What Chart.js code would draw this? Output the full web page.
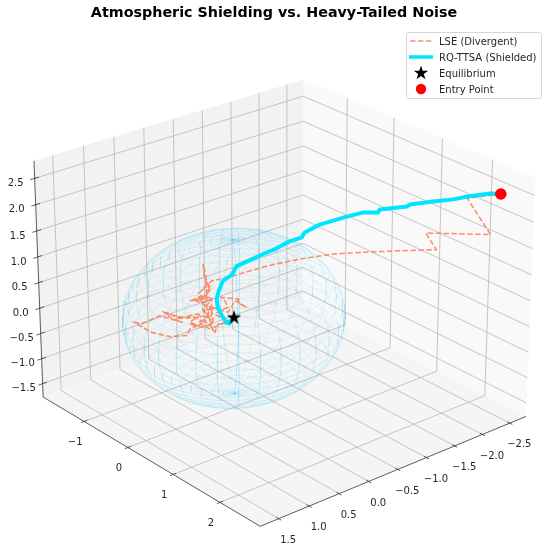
<!DOCTYPE html>
<html>
<head>
<meta charset="utf-8">
<style>html,body{margin:0;padding:0;background:#fff}canvas{display:block}</style>
<script src="https://cdn.jsdelivr.net/npm/chart.js@4/dist/chart.umd.min.js"></script>
</head>
<body>
<canvas id="c" width="548" height="550"></canvas>
<script>
// Trajectories in state space, listed from the entry point towards equilibrium.
const rqX = [-2.5,-2.404,-2.19,-2.06,-1.872,-1.658,-1.631,-1.377,-1.359,-1.217,-1.067,-0.814,-0.673,-0.646,-0.532,-0.409,-0.277,-0.134,-0.029,0.019,0.105,0.144,0.164,0.155,0.126,0.087,0.048,0];
const rqY = [2.5,2.404,2.19,2.06,1.872,1.658,1.631,1.377,1.359,1.217,1.067,0.814,0.673,0.646,0.532,0.409,0.277,0.134,0.029,-0.019,-0.105,-0.144,-0.164,-0.155,-0.126,-0.087,-0.048,0];
const rqZ = [2.5,2.505,2.438,2.376,2.326,2.258,2.221,2.15,2.092,2.083,2.0,1.835,1.678,1.584,1.502,1.362,1.242,1.102,1.0,0.827,0.705,0.512,0.357,0.183,0.07,-0.063,-0.12,0];

const lseA = [2.5,2.19,2.418,1.811,1.913,1.296,0.943,0.63,0.315,-0.01,-0.212,-0.346,-0.264,-0.258,-0.29,-0.281,-0.239,-0.271,-0.426,-0.329,-0.216,-0.297,-0.249,-0.232,-0.258,
  -0.264,-0.216,-0.297,-0.41,-0.313,-0.2,-0.281,-0.394,-0.264,-0.184,-0.297,-0.232,-0.345,-0.49,-0.587,-0.651,-0.523,-0.394,-0.281,-0.361,-0.426,-0.313,-0.2,-0.216,-0.249,-0.2,-0.297,
  -0.361,-0.442,-0.539,-0.668,-0.603,-0.491,-0.716,-0.878,-0.958,-0.797,-0.62,-0.452,-0.426,-0.346,-0.426,-0.329,-0.232,-0.184,-0.152,-0.055,-0.104,-0.184,-0.104,-0.055,-0.087,-0.119,0.042,0.058,0.123,0.01,-0.055,-0.2,-0.232,-0.184,-0.087,-0.007];
const lseX = lseA.map(v => -v);
const lseY = lseA;
const lseZ = [2.5,2.4,1.732,1.73,1.419,1.343,1.283,1.17,1.018,0.808,0.7,0.438,0.585,0.702,1.025,0.798,0.562,0.346,0.303,0.362,0.316,0.15,0.023,0.199,-0.041,
  0.701,0.543,0.375,0.304,0.407,0.362,0.279,0.338,0.216,0.157,0.117,-0.04,0.05,-0.025,0.015,0.062,-0.047,0,-0.109,-0.192,-0.149,-0.208,-0.135,0.219,0.056,-0.265,-0.174,
  -0.017,-0.034,-0.015,0.061,-0.044,-0.122,-0.006,-0.166,-0.151,-0.335,-0.408,-0.378,-0.246,-0.177,-0.118,0.018,-0.17,-0.297,-0.132,-0.125,-0.032,0.06,0.162,0.197,0.325,0.387,0.366,0.27,0.208,0.331,0.1,0.187,-0.073,-0.2,-0.096,-0.006];

const equilibrium = [0, 0, 0];
const entryPoint = [-2.5, 2.5, 2.5];
const shieldRadius = 1.5;

const xTicks = [-2.5,-2,-1.5,-1,-0.5,0,0.5,1,1.5];
const yTicks = [-1,0,1,2];
const zTicks = [-1.5,-1,-0.5,0,0.5,1,1.5,2,2.5];
const xLim = [-2.8, 1.8], yLim = [-1.97, 2.83], zLim = [-1.77, 2.83];

const titleText = 'Atmospheric Shielding vs. Heavy-Tailed Noise';
const FONT = '"DejaVu Sans", sans-serif';
const TITLE_H = 29;

// Perspective camera for the 3D box, following the usual mplot3d conventions.
const deg = Math.PI / 180, ELEV = 25 * deg, AZIM = 50 * deg, DIST = 10;
const BOX = [1.1906, 1.1906, 0.8929];
const FOCAL = 2933, CX = 283, CY = 290.2;
const W = [Math.cos(ELEV)*Math.cos(AZIM), Math.cos(ELEV)*Math.sin(AZIM), Math.sin(ELEV)];
const U = [-Math.sin(AZIM), Math.cos(AZIM), 0];
const V = [W[1]*U[2]-W[2]*U[1], W[2]*U[0]-W[0]*U[2], W[0]*U[1]-W[1]*U[0]];
const dot = (a, b) => a[0]*b[0] + a[1]*b[1] + a[2]*b[2];
function project(x, y, z) {
  const p = [
    ((x - xLim[0]) / (xLim[1] - xLim[0]) - 0.5) * BOX[0],
    ((y - yLim[0]) / (yLim[1] - yLim[0]) - 0.5) * BOX[1],
    ((z - zLim[0]) / (zLim[1] - zLim[0]) - 0.5) * BOX[2]
  ];
  const d = DIST - dot(W, p);
  return { x: CX + FOCAL * dot(U, p) / d, y: CY - FOCAL * dot(V, p) / d };
}

const datasets = [];
function polyline(pts, style) {
  datasets.push(Object.assign({
    data: pts.map(p => project(p[0], p[1], p[2])),
    showLine: true, pointRadius: 0, fill: false, tension: 0
  }, style));
}

// Grid lines on the three panes
const gridStyle = { borderColor: '#b8b8b8', borderWidth: 0.8 };
for (const t of xTicks) {
  polyline([[t, yLim[1], zLim[0]], [t, yLim[0], zLim[0]], [t, yLim[0], zLim[1]]], gridStyle);
}
for (const t of yTicks) {
  polyline([[xLim[1], t, zLim[0]], [xLim[0], t, zLim[0]], [xLim[0], t, zLim[1]]], gridStyle);
}
for (const t of zTicks) {
  polyline([[xLim[1], yLim[0], t], [xLim[0], yLim[0], t], [xLim[0], yLim[1], t]], gridStyle);
}

// Axis spines and tick marks
const axisStyle = { borderColor: '#333333', borderWidth: 0.8 };
polyline([[xLim[0], yLim[1], zLim[0]], [xLim[1], yLim[1], zLim[0]], [xLim[1], yLim[0], zLim[0]], [xLim[1], yLim[0], zLim[1]]], axisStyle);
for (const t of xTicks) polyline([[t, yLim[1] - 0.05, zLim[0]], [t, yLim[1] + 0.05, zLim[0]]], axisStyle);
for (const t of yTicks) polyline([[xLim[1] - 0.05, t, zLim[0]], [xLim[1] + 0.05, t, zLim[0]]], axisStyle);
for (const t of zTicks) polyline([[xLim[1] - 0.07, yLim[0], t], [xLim[1] + 0.07, yLim[0], t]], axisStyle);

// Wireframe of the shielding sphere
const MERIDIANS = 33, PARALLELS = 31, SEG = 64;
const wireStyle = { borderColor: 'rgba(0,191,255,0.13)', borderWidth: 0.7 };
for (let m = 0; m < MERIDIANS; m++) {
  const phi = 2 * Math.PI * m / MERIDIANS, pts = [];
  for (let s = 0; s <= SEG; s++) {
    const th = Math.PI * s / SEG;
    pts.push([shieldRadius*Math.sin(th)*Math.cos(phi), shieldRadius*Math.sin(th)*Math.sin(phi), shieldRadius*Math.cos(th)]);
  }
  polyline(pts, wireStyle);
}
for (let k = 1; k < PARALLELS; k++) {
  const th = Math.PI * k / PARALLELS, pts = [];
  for (let s = 0; s <= SEG; s++) {
    const phi = 2 * Math.PI * s / SEG;
    pts.push([shieldRadius*Math.sin(th)*Math.cos(phi), shieldRadius*Math.sin(th)*Math.sin(phi), shieldRadius*Math.cos(th)]);
  }
  polyline(pts, wireStyle);
}

const zip3 = (a, b, c) => a.map((v, i) => [v, b[i], c[i]]);
const LSE_COLOR = 'rgba(255,112,67,0.8)', RQ_COLOR = '#00e5ff';
polyline(zip3(lseX, lseY, lseZ), { label: 'LSE (Divergent)', borderColor: LSE_COLOR, borderWidth: 1.5, borderDash: [5.5, 2.4] });
polyline(zip3(rqX, rqY, rqZ), { label: 'RQ-TTSA (Shielded)', borderColor: RQ_COLOR, borderWidth: 4, borderJoinStyle: 'round', borderCapStyle: 'round' });

// Five-pointed marker sprite, shared by the plot and the key
function starSprite(r) {
  const c = document.createElement('canvas');
  c.width = c.height = Math.ceil(r * 2 + 2);
  const g = c.getContext('2d'), m = c.width / 2;
  g.fillStyle = '#000';
  g.beginPath();
  for (let i = 0; i < 10; i++) {
    const rad = i % 2 ? r * 0.382 : r, a = -Math.PI / 2 + i * Math.PI / 5;
    g.lineTo(m + rad * Math.cos(a), m + rad * Math.sin(a));
  }
  g.closePath();
  g.fill();
  return c;
}
const star = starSprite(7.6);
datasets.push({ label: 'Equilibrium', data: [project(...equilibrium)], pointStyle: star, pointRadius: 8, showLine: false });
datasets.push({ label: 'Entry Point', data: [project(...entryPoint)], pointStyle: 'circle', pointRadius: 5.8, pointBackgroundColor: '#ff0000', pointBorderColor: '#ff0000', pointBorderWidth: 0, showLine: false });

// The library paints high order first, so later entries land on top.
datasets.forEach((d, i) => { d.order = datasets.length - i; });

// Back panes, painted under every dataset
const panePlugin = {
  id: 'panes',
  beforeDatasetsDraw(chart) {
    const { ctx, scales } = chart;
    const poly = (corners, fill) => {
      ctx.beginPath();
      corners.forEach(c => {
        const p = project(c[0], c[1], c[2]);
        ctx.lineTo(scales.x.getPixelForValue(p.x), scales.y.getPixelForValue(p.y));
      });
      ctx.closePath();
      ctx.fillStyle = fill;
      ctx.fill();
    };
    const [x0, x1] = xLim, [y0, y1] = yLim, [z0, z1] = zLim;
    poly([[x0,y0,z0],[x0,y1,z0],[x0,y1,z1],[x0,y0,z1]], '#f9f9f9');
    poly([[x0,y0,z0],[x1,y0,z0],[x1,y0,z1],[x0,y0,z1]], '#f2f2f2');
    poly([[x0,y0,z0],[x1,y0,z0],[x1,y1,z0],[x0,y1,z0]], '#f5f5f5');
  }
};

const fmt = (v, d) => (v < 0 ? '\u2212' : '') + Math.abs(v).toFixed(d);

// Tick labels around the box and the boxed key
const overlayPlugin = {
  id: 'overlay',
  afterDatasetsDraw(chart) {
    const { ctx } = chart;
    ctx.save();
    ctx.font = '10px ' + FONT;
    ctx.fillStyle = '#262626';
    ctx.textAlign = 'center';
    ctx.textBaseline = 'middle';
    for (const t of xTicks) { const p = project(t, yLim[1], zLim[0]); ctx.fillText(fmt(t, 1), p.x + 9.5, p.y + 21.5); }
    for (const t of yTicks) { const p = project(xLim[1], t, zLim[0]); ctx.fillText(fmt(t, 0), p.x - 9, p.y + 21); }
    for (const t of zTicks) { const p = project(xLim[1], yLim[0], t); ctx.fillText(fmt(t, 1), p.x - 19, p.y + 5); }

    const bx = 406, by = 32, bw = 135, bh = 66;
    ctx.beginPath();
    ctx.roundRect(bx + 0.5, by + 0.5, bw, bh, 2);
    ctx.fillStyle = 'rgba(255,255,255,0.85)';
    ctx.fill();
    ctx.strokeStyle = '#d6d6d6';
    ctx.lineWidth = 1;
    ctx.stroke();
    const rows = [41, 57, 73, 89], names = datasets.filter(d => d.label);
    names.forEach((d, i) => {
      const y = rows[i];
      if (d.label.startsWith('LSE')) {
        ctx.strokeStyle = LSE_COLOR; ctx.lineWidth = 1.5; ctx.setLineDash([5.5, 2.4]);
        ctx.beginPath(); ctx.moveTo(410, y); ctx.lineTo(432, y); ctx.stroke(); ctx.setLineDash([]);
      } else if (d.label.startsWith('RQ')) {
        ctx.strokeStyle = RQ_COLOR; ctx.lineWidth = 3.5;
        ctx.beginPath(); ctx.moveTo(409, y); ctx.lineTo(433, y); ctx.stroke();
      } else if (d.pointStyle === star) {
        ctx.drawImage(star, 421 - star.width / 2, y - star.height / 2);
      } else {
        ctx.fillStyle = '#ff0000';
        ctx.beginPath(); ctx.arc(421, y, 5.2, 0, 2 * Math.PI); ctx.fill();
      }
      ctx.fillStyle = '#262626';
      ctx.textAlign = 'left';
      ctx.fillText(d.label, 439, y + 1);
    });
    ctx.restore();
  }
};

new Chart(document.getElementById('c'), {
  type: 'scatter',
  data: { datasets },
  plugins: [panePlugin, overlayPlugin],
  options: {
    responsive: false,
    animation: false,
    events: [],
    layout: { padding: 0, autoPadding: false },
    plugins: {
      legend: { display: false },
      tooltip: { enabled: false },
      title: {
        display: true, text: titleText, color: '#000',
        font: { family: FONT, size: 14.3, weight: 'bold', lineHeight: 1.2 },
        padding: { top: 4.8, bottom: 7.04 }
      }
    },
    scales: {
      x: { type: 'linear', display: false, min: 0, max: 548 },
      y: { type: 'linear', display: false, min: TITLE_H, max: 550, reverse: true }
    }
  }
});
</script>
</body>
</html>
